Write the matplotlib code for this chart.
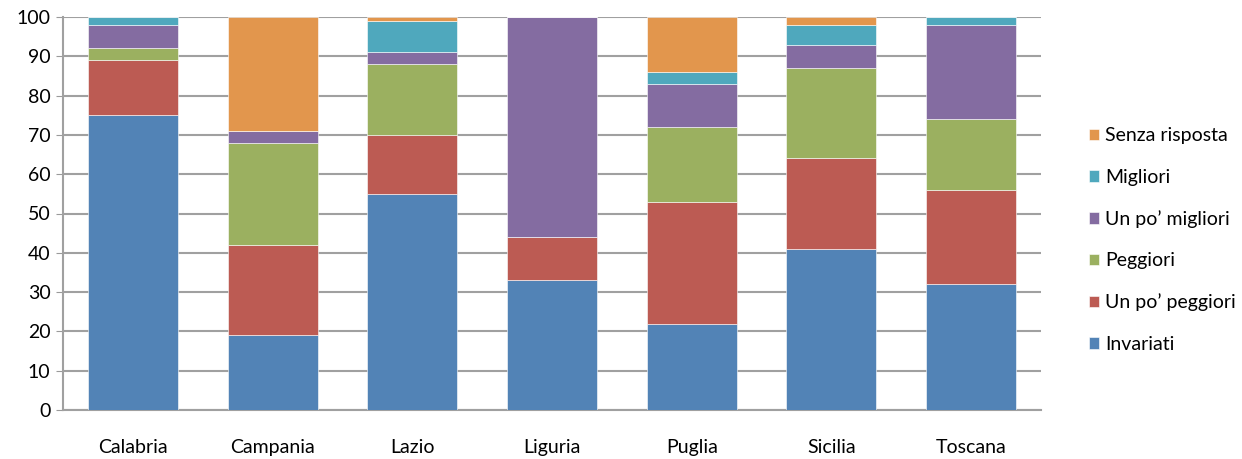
import numpy as np
import matplotlib.pyplot as plt

regions = ['Calabria', 'Campania', 'Lazio', 'Liguria', 'Puglia', 'Sicilia', 'Toscana']

# percentuali per risposta, dal basso verso l'alto
invariati = [75, 19, 55, 33, 22, 41, 32]
poco_peggiori = [14, 23, 15, 11, 31, 23, 24]
peggiori = [3, 26, 18, 0, 19, 23, 18]
poco_migliori = [6, 3, 3, 56, 11, 6, 24]
migliori = [2, 0, 8, 0, 3, 5, 2]
senza_risposta = [0, 29, 1, 0, 14, 2, 0]

series = [
    ('Invariati', invariati, '#5283b6'),
    ('Un po\u2019 peggiori', poco_peggiori, '#bc5b53'),
    ('Peggiori', peggiori, '#9bb060'),
    ('Un po\u2019 migliori', poco_migliori, '#846ca1'),
    ('Migliori', migliori, '#4fa8bd'),
    ('Senza risposta', senza_risposta, '#e2964d'),
]

plt.rcParams['font.family'] = ['Lato', 'DejaVu Sans']
fs = 14

fig = plt.figure(figsize=(12.42, 4.59), dpi=100)
ax = fig.add_axes([63 / 1242, 1 - 410 / 459, 978 / 1242, 393 / 459])

x = np.arange(len(regions))
bottom = np.zeros(len(regions))
handles = []
for name, vals, color in series:
    b = ax.bar(x, vals, 0.645, bottom=bottom, color=color, label=name,
               edgecolor='white', linewidth=0.4, zorder=3)
    handles.append(b)
    bottom += np.array(vals)

ax.set_xlim(-0.5, len(regions) - 0.5)
ax.set_ylim(0, 100)
ax.set_yticks(range(0, 101, 10))
ax.set_xticks(x)
ax.set_xticklabels(regions, fontsize=fs)
ax.tick_params(axis='y', labelsize=fs, length=5, color='#9a9a9a', pad=4)
ax.tick_params(axis='x', length=0, pad=21)
ax.yaxis.grid(True, color='#a0a0a0', linewidth=1.5, zorder=0)

for side in ['top', 'right']:
    ax.spines[side].set_visible(False)
ax.spines['left'].set_color('#a0a0a0')
ax.spines['bottom'].set_color('#a0a0a0')
ax.spines['left'].set_linewidth(1.5)
ax.spines['bottom'].set_linewidth(1.5)

fig.legend(handles[::-1], [s[0] for s in series][::-1], loc='upper left',
           bbox_to_anchor=(1071 / 1242, 1 - 110 / 459), frameon=False,
           fontsize=fs, handlelength=0.55, handleheight=0.55,
           handletextpad=0.3, labelspacing=1.25)

fig.savefig('out.png', dpi=100)
